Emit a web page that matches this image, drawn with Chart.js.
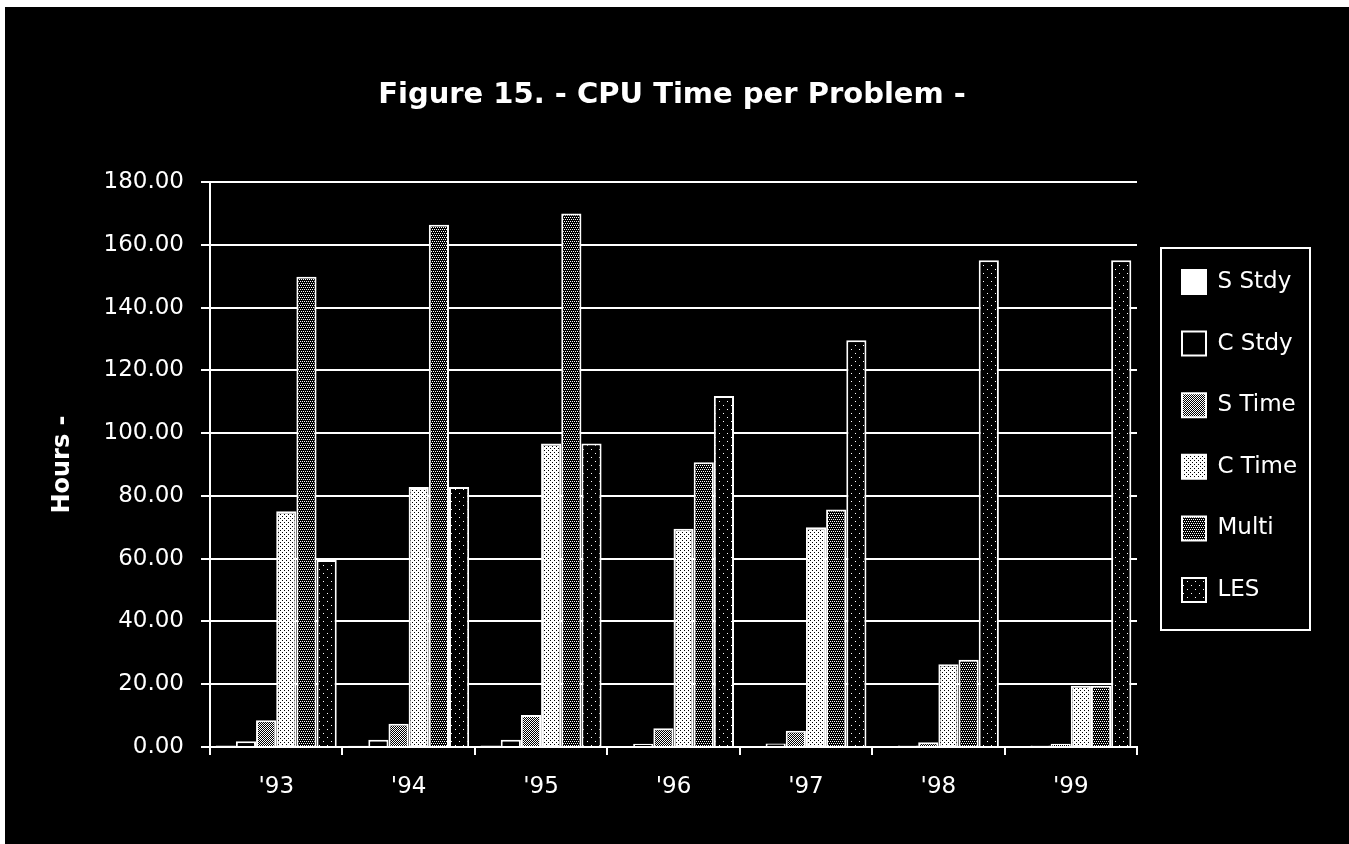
<!DOCTYPE html>
<html lang="en">
  <head>
    <meta charset="UTF-8" />
    <title>Figure 15 - CPU Time per Problem</title>
    <script src="https://cdn.jsdelivr.net/npm/chart.js"></script>
    <style>
      body {
        margin: 0;
        background: #fff;
      }
      .chart-container {
        position: absolute;
        left: 5px;
        top: 7px;
        width: 1344px;
        height: 837px;
        background: #000;
      }
    </style>
  </head>
  <body>
    <div class="chart-container">
      <canvas id="cpuChart" width="1344" height="837"></canvas>
    </div>

    <script>
      // values (hours)
      const years = ["'93", "'94", "'95", "'96", "'97", "'98", "'99"];
      const sStdy = [0.5, 0.4, 0.5, 0.3, 0.3, 0.1, 0.1];
      const cStdy = [1.8, 2.3, 2.3, 1.0, 1.1, 0.5, 0.5];
      const sTime = [8.5, 7.4, 10.2, 6.0, 5.2, 1.5, 1.0];
      const cTime = [75.1, 82.8, 96.7, 69.5, 70.0, 26.4, 19.5];
      const multi = [149.8, 166.4, 170.0, 90.7, 75.7, 27.8, 19.5];
      const les = [59.6, 82.8, 96.7, 111.8, 129.6, 155.1, 155.1];
      const seriesNames = ["S Stdy", "C Stdy", "S Time", "C Time", "Multi", "LES"];
      const yMin = 0;
      const yMax = 180;
      const yStep = 20;

      Chart.defaults.font.family = "'DejaVu Sans', sans-serif";
      Chart.defaults.color = "#fff";

      // little bitmap fills, like the old mac patterns
      function makePattern(size, bg, fg, dots) {
        const c = document.createElement("canvas");
        c.width = c.height = size;
        const g = c.getContext("2d");
        g.fillStyle = bg;
        g.fillRect(0, 0, size, size);
        g.fillStyle = fg;
        dots.forEach(([x, y]) => g.fillRect(x, y, 1, 1));
        return g.createPattern(c, "repeat");
      }

      const fills = [
        "#fff",
        "#000",
        makePattern(2, "#000", "#fff", [[0, 0], [1, 1]]),
        makePattern(4, "#fff", "#000", [[1, 1], [3, 3]]),
        makePattern(4, "#000", "#fff", [[0, 0], [2, 0], [1, 2], [3, 2]]),
        makePattern(8, "#000", "#fff", [[2, 2], [6, 6]]),
      ];
      const seriesData = [sStdy, cStdy, sTime, cTime, multi, les];

      // work out legend width so the plot area lands where the figure has it
      const legendFont = 23;
      const legendPad = 37.6;
      const mctx = document.createElement("canvas").getContext("2d");
      mctx.font = "normal " + legendFont + "px 'DejaVu Sans', sans-serif";
      let colWidth = 0;
      seriesNames.forEach((n) => {
        colWidth = Math.max(colWidth, 24 + legendFont / 2 + mctx.measureText(n).width);
      });
      const legendWidth = legendPad + colWidth + 10;
      const gapRight = 7.4;
      const padRight = 1344 - 1132 - gapRight - legendWidth;
      const padLeft = padRight - 10;

      const legendBorder = {
        id: "legendBorder",
        afterDraw(chart) {
          const hb = chart.legend.legendHitBoxes;
          if (!hb || !hb.length) return;
          const first = hb[0];
          const last = hb[hb.length - 1];
          const x = first.left - 21;
          const y = first.top + first.height / 2 - 34;
          const h = last.top + last.height / 2 + 40 - y;
          const ctx = chart.ctx;
          ctx.save();
          ctx.strokeStyle = "#fff";
          ctx.lineWidth = 2;
          ctx.strokeRect(x, y, 149, h);
          ctx.restore();
        },
      };

      const ctx = document.getElementById("cpuChart").getContext("2d");
      new Chart(ctx, {
        type: "bar",
        data: {
          labels: years,
          datasets: seriesNames.map((name, i) => ({
            label: name,
            data: seriesData[i],
            backgroundColor: fills[i],
            borderColor: "#fff",
            borderWidth: 2,
            categoryPercentage: 0.914,
            barPercentage: 1.0,
          })),
        },
        options: {
          responsive: false,
          animation: false,
          layout: {
            padding: { left: padLeft, right: padRight, top: 41, bottom: 20 },
          },
          plugins: {
            title: {
              display: true,
              text: "Figure 15. - CPU Time per Problem -",
              color: "#fff",
              font: { size: 29, weight: "bold" },
              padding: { top: 30.2, bottom: 69 },
            },
            legend: {
              position: "right",
              labels: {
                boxWidth: 24,
                boxHeight: 24,
                padding: legendPad,
                color: "#fff",
                font: { size: legendFont },
              },
            },
            tooltip: { enabled: false },
          },
          scales: {
            x: {
              grid: {
                display: true,
                drawOnChartArea: false,
                drawTicks: true,
                tickLength: 8,
                color: "#fff",
                lineWidth: 2,
                offset: true,
              },
              border: { color: "#fff", width: 2 },
              ticks: { color: "#fff", font: { size: 23 }, padding: 18 },
              afterFit: (s) => {
                s.height = 77;
              },
            },
            y: {
              min: yMin,
              max: yMax,
              ticks: {
                stepSize: yStep,
                color: "#fff",
                padding: 17,
                font: { size: 23 },
                callback: (v) => v.toFixed(2),
              },
              grid: { color: "#fff", lineWidth: 2, tickLength: 9 },
              border: { color: "#fff", width: 2 },
              title: {
                display: true,
                text: "Hours -",
                color: "#fff",
                font: { size: 24, weight: "bold" },
                padding: { top: 11.6, bottom: 0 },
              },
              afterFit: (s) => {
                s.width = 205 - padLeft;
              },
            },
            y2: {
              position: "right",
              display: false,
              afterFit: (s) => {
                s.width = gapRight;
              },
            },
          },
        },
        plugins: [legendBorder],
      });
    </script>
  </body>
</html>
